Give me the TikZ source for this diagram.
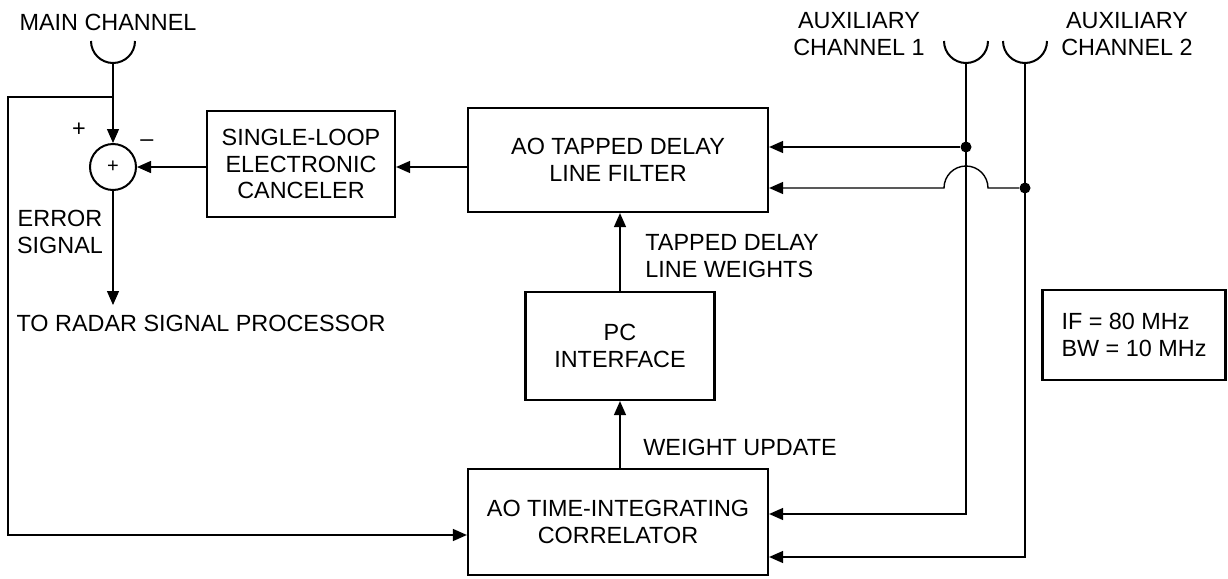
\documentclass[tikz,border=0pt]{standalone}
\usepackage{fontspec}
\setsansfont{Liberation Sans}
\usetikzlibrary{arrows.meta,calc}

\begin{document}
\begin{tikzpicture}[x=0.5pt,y=-0.5pt]
    % --- Dimensions (pixel grid, y pointing down) ---
    \def\MainX{113}     % main channel feed line
    \def\AuxAX{966}     % auxiliary channel 1 feed line
    \def\AuxBX{1025}    % auxiliary channel 2 feed line
    \def\CupY{41}       % rim height of the antenna cups
    \def\CupR{11pt}     % cup radius
    \def\LoopX{8}       % x of the left return line
    \def\BranchY{97}    % y where the main channel is tapped
    \def\TapY{147}      % upper input of the filter
    \def\TapYY{188}     % lower input of the filter

    % --- Styles ---
    \tikzset{
        block/.style={
            draw,
            line width=1.1pt,
            align=center,
            inner sep=0pt,
            font=\sffamily\fontsize{11.7}{13.4}\selectfont
        },
        label text/.style={font=\sffamily\fontsize{11.7}{13.6}\selectfont, inner sep=0pt},
        sig line/.style={line width=0.7pt},
        sig arrow/.style={sig line, -{Triangle[length=7pt,width=6pt]}},
        cup/.style={line width=1pt},
        junction/.style={circle, fill, inner sep=0pt, minimum size=5.5pt}
    }

    \useasboundingbox (0,0) rectangle (1228,579);

    % =========================================================
    % 1) ANTENNAS
    % =========================================================
    \draw[cup] (\MainX-22,\CupY) arc[start angle=180, end angle=360, radius=\CupR];
    \draw[cup] (\AuxAX-22,\CupY) arc[start angle=180, end angle=360, radius=\CupR];
    \draw[cup] (\AuxBX-22,\CupY) arc[start angle=180, end angle=360, radius=\CupR];
    \coordinate (mainfeed) at (\MainX,\CupY+22);
    \coordinate (auxAfeed) at (\AuxAX,\CupY+22);
    \coordinate (auxBfeed) at (\AuxBX,\CupY+22);

    \node[label text] (mainlbl) at (108,22) {MAIN CHANNEL};
    \node[label text, align=center] (auxAlbl) at (859,34) {AUXILIARY\\CHANNEL 1};
    \node[label text, align=center] (auxBlbl) at (1127,34) {AUXILIARY\\CHANNEL 2};

    % =========================================================
    % 2) BLOCKS
    % =========================================================
    \node[circle, draw, line width=1pt, minimum size=23pt, inner sep=0pt,
          font=\sffamily\fontsize{10}{12}\selectfont] (sum) at (\MainX,167) {+};
    \node[block, minimum width=94pt, minimum height=53pt] (cancel) at (301,164)
        {SINGLE-LOOP\\ELECTRONIC\\CANCELER};
    \node[block, minimum width=150pt, minimum height=52pt] (filter) at (618,160)
        {AO TAPPED DELAY\\LINE FILTER};
    \node[block, minimum width=94.5pt, minimum height=54pt] (pc) at (620,346)
        {PC\\INTERFACE};
    \node[block, minimum width=150pt, minimum height=53pt] (corr) at (618,522)
        {AO TIME-INTEGRATING\\CORRELATOR};
    \node[block, minimum width=91.5pt, minimum height=45pt, align=left] (ifbox) at (1134,335)
        {IF = 80 MHz\\BW = 10 MHz};

    % =========================================================
    % 3) SIGNAL PATHS
    % =========================================================
    \coordinate (tapmain) at (\MainX,\BranchY);
    \coordinate (loopcorner) at (\LoopX,\BranchY);
    \coordinate (corrin) at ([yshift=-6.5pt]corr.west);
    \coordinate (corrinA) at ([yshift=4pt]corr.east);
    \coordinate (corrinB) at ([yshift=-17.5pt]corr.east);
    \coordinate (radar) at (\MainX,305);
    \node[junction] (dotA) at (\AuxAX,\TapY) {};
    \node[junction] (dotB) at (\AuxBX,\TapYY) {};

    % main channel into the summer, and back to the correlator
    \draw[sig arrow] (mainfeed) -- (sum.north);
    \draw[sig arrow] (tapmain) -- (loopcorner) |- (corrin);

    % canceller chain
    \draw[sig arrow] (filter.west |- sum) -- (cancel.east |- sum);
    \draw[sig arrow] (cancel.west |- sum) -- (sum.east);
    \draw[sig arrow] (sum.south) -- (radar);

    % weights loop
    \draw[sig arrow] (corr.north -| pc) -- (pc.south);
    \draw[sig arrow] (pc.north) -- (filter.south -| pc);

    % auxiliary channels
    \draw[sig arrow] (auxAfeed) |- (corrinA);
    \draw[sig arrow] (auxBfeed) |- (corrinB);
    \draw[sig arrow] (dotA) -- (filter.east |- dotA);
    \draw[sig arrow] (dotB) -- (\AuxAX+22,\TapYY)
        arc[start angle=0, end angle=180, radius=\CupR] -- (filter.east |- dotB);

    % =========================================================
    % 4) TEXT
    % =========================================================
    \node[label text] (plus) at (79,130) {+};
    \node[label text] (minus) at (147,143) {--};
    \node[label text, align=center] (errlbl) at (60,232) {ERROR\\SIGNAL};
    \node[label text] (radarlbl) at (201,323) {TO RADAR SIGNAL PROCESSOR};
    \node[label text, anchor=west, align=left] (weightlbl) at (645,256)
        {TAPPED DELAY\\LINE WEIGHTS};
    \node[label text, anchor=west] (updatelbl) at (643,447) {WEIGHT UPDATE};

\end{tikzpicture}
\end{document}
